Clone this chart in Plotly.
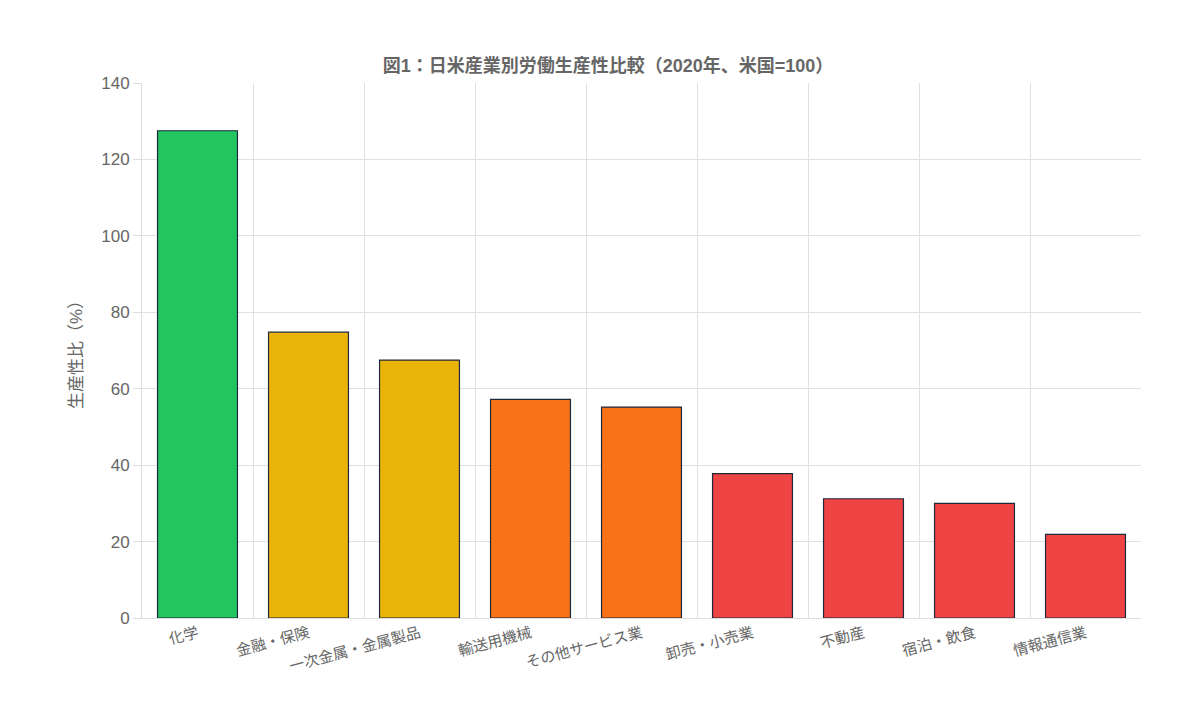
import plotly.graph_objects as go

categories = ["化学", "金融・保険", "一次金属・金属製品", "輸送用機械", "その他サービス業",
              "卸売・小売業", "不動産", "宿泊・飲食", "情報通信業"]
values = [127.5, 74.8, 67.5, 57.2, 55.2, 37.8, 31.2, 30.0, 21.9]
colors = ["#22c55e", "#eab308", "#eab308", "#f97316", "#f97316",
          "#ef4444", "#ef4444", "#ef4444", "#ef4444"]

FONT = "Helvetica, Arial, 'Noto Sans CJK JP', sans-serif"
fig = go.Figure()
fig.add_trace(go.Bar(x=categories, y=values, marker=dict(color=colors, line=dict(color="#1e293b", width=1.2)),
                     width=0.72, hoverinfo="x+y"))
# invisible trace for category-boundary grid
fig.add_trace(go.Scatter(x=[-0.5, 8.5], y=[0, 0], xaxis="x2", mode="markers",
                         marker=dict(opacity=0), showlegend=False, hoverinfo="skip"))
fig.update_layout(
    width=1200, height=728, plot_bgcolor="white", paper_bgcolor="white",
    margin=dict(l=134, r=67, t=75, b=118), showlegend=False,
    font=dict(family=FONT, color="#666", size=14),
    title=dict(text="<b>図1：日米産業別労働生産性比較（2020年、米国=100）</b>", x=0.5, xanchor="center",
               y=0.93, font=dict(size=18, color="#666")),
    xaxis=dict(showgrid=False, tickangle=-15, ticks="", showline=True, linecolor="#ddd",
               tickfont=dict(size=15, color="#666")),
    xaxis2=dict(overlaying="x", range=[-0.5, 8.5], tick0=-0.5, dtick=1, showgrid=True,
                gridcolor="#e0e0e0", showticklabels=False, zeroline=False,
                ticks="inside", ticklen=0),
    yaxis=dict(range=[0, 140], dtick=20, gridcolor="#e0e0e0", ticks="outside", ticklen=8, tickcolor="#ddd",
               showline=True, linecolor="#ddd", zeroline=False,
               title=dict(text="生産性比（%）", font=dict(size=17, color="#666"), standoff=14),
               tickfont=dict(size=17, color="#666")),
)
fig.write_html("out.html")
